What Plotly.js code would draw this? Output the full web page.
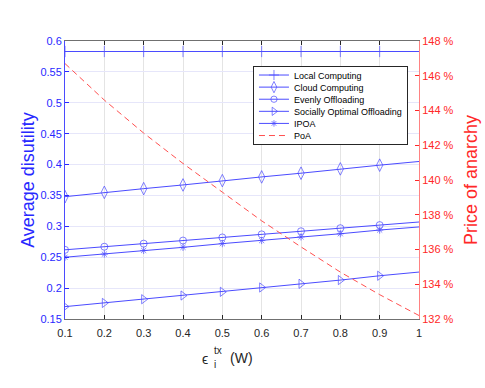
<!DOCTYPE html>
<html>
<head>
<meta charset="utf-8">
<script src="https://cdn.plot.ly/plotly-3.0.1.min.js"></script>
<style>
html, body {margin:0; padding:0; background:#fff;}
#graph {width:485px; height:388px;}
</style>
</head>
<body>
<div id="graph"></div>
<script>
/* Datos */

// eje x: potencia de transmision (W)
const potencia = [0.1, 0.2, 0.3, 0.4, 0.5, 0.6, 0.7, 0.8, 0.9, 1.0];

// eje izquierdo: disutilidad promedio
const localComputing = [0.583, 0.583, 0.583, 0.583, 0.583, 0.583, 0.583, 0.583, 0.583, 0.583];
const cloudComputing = [0.348, 0.355, 0.361, 0.367, 0.374, 0.380, 0.386, 0.393, 0.399, 0.405];
const evenlyOffloading = [0.262, 0.267, 0.272, 0.277, 0.282, 0.287, 0.292, 0.297, 0.302, 0.307];
const sociallyOptimal = [0.170, 0.176, 0.182, 0.188, 0.194, 0.201, 0.207, 0.213, 0.220, 0.226];
const ipoa = [0.250, 0.255, 0.261, 0.266, 0.272, 0.277, 0.283, 0.288, 0.294, 0.299];

// eje derecho: precio de la anarquia (%)
const poa = [146.7, 144.6, 142.7, 140.95, 139.3, 137.65, 136.15, 134.7, 133.4, 132.2];

// etiquetas de los ejes
const ticksX = ['0.1', '0.2', '0.3', '0.4', '0.5', '0.6', '0.7', '0.8', '0.9', '1'];
const valoresIzq = [0.15, 0.2, 0.25, 0.3, 0.35, 0.4, 0.45, 0.5, 0.55, 0.6];
const ticksIzq = ['0.15', '0.2', '0.25', '0.3', '0.35', '0.4', '0.45', '0.5', '0.55', '0.6'];
const valoresDer = [132, 134, 136, 138, 140, 142, 144, 146, 148];
const ticksDer = ['132 %', '134 %', '136 %', '138 %', '140 %', '142 %', '144 %', '146 %', '148 %'];

const AZUL = 'rgb(40,40,255)';
const AZUL_LINEA = 'rgb(75,75,255)';
const ROJO = 'rgb(255,40,40)';
const ROJO_LINEA = 'rgb(255,80,80)';
const GRIS = '#262626';
const FUENTE = '"Liberation Sans", Arial, sans-serif';

// marcadores en todos los puntos menos el ultimo (como en el original)
function serie(y, nombre, simbolo, tam){
    return {
        type: 'scatter',
        mode: 'lines+markers',
        x: potencia,
        y: y,
        name: nombre,
        line: {color: AZUL_LINEA, width: 1},
        marker: {
            symbol: simbolo,
            size: potencia.map((_, i) => i < potencia.length - 1 ? tam : 0),
            color: AZUL_LINEA,
            line: {color: AZUL_LINEA, width: 1}
        }
    };
}

const trazas = [
    serie(localComputing, 'Local Computing', 'cross-thin-open', 8),
    serie(cloudComputing, 'Cloud Computing', 'diamond-tall-open', 9),
    serie(evenlyOffloading, 'Evenly Offloading', 'circle-open', 7),
    serie(sociallyOptimal, 'Socially Optimal Offloading', 'triangle-right-open', 8),
    serie(ipoa, 'IPOA', 'asterisk-open', 6),
    {
        type: 'scatter',
        mode: 'lines',
        x: potencia,
        y: poa,
        yaxis: 'y2',
        name: 'PoA',
        line: {color: ROJO_LINEA, width: 1, dash: '6px,4px'}
    }
];

const layout = {
    width: 485,
    height: 388,
    margin: {l: 65, r: 66, t: 41, b: 69, pad: 0},
    paper_bgcolor: '#fff',
    plot_bgcolor: '#fff',
    font: {family: FUENTE, size: 11, color: GRIS},
    showlegend: true,
    legend: {
        x: 0.531, y: 0.91, xanchor: 'left', yanchor: 'top',
        bgcolor: '#fff', bordercolor: GRIS, borderwidth: 1,
        font: {family: FUENTE, size: 9, color: '#000'}
    },
    xaxis: {
        range: [0.1, 1],
        tickvals: potencia, ticktext: ticksX,
        ticks: 'inside', ticklen: 4, tickcolor: GRIS,
        ticklabelstandoff: 4,
        showline: true, linecolor: '#707070', linewidth: 1, mirror: 'ticks',
        showgrid: true, gridcolor: '#e4e4e4', zeroline: false,
        tickfont: {size: 11, color: GRIS}
    },
    yaxis: {
        range: [0.15, 0.6],
        tickvals: valoresIzq, ticktext: ticksIzq,
        ticks: 'inside', ticklen: 4, tickcolor: AZUL,
        showline: true, linecolor: AZUL_LINEA, linewidth: 1,
        showgrid: true, gridcolor: '#e6e6fa', zeroline: false,
        tickfont: {size: 11, color: AZUL},
        title: {text: 'Average disutility', font: {size: 18, color: AZUL}, standoff: 1}
    },
    yaxis2: {
        overlaying: 'y', side: 'right',
        range: [132, 148],
        tickvals: valoresDer, ticktext: ticksDer,
        ticks: 'inside', ticklen: 4, tickcolor: ROJO,
        showline: true, linecolor: 'rgb(255,130,130)', linewidth: 1,
        showgrid: false, zeroline: false,
        tickfont: {size: 11, color: ROJO},
        title: {text: 'Price of anarchy', font: {size: 18, color: ROJO}, standoff: 11}
    },
    // etiqueta del eje x con sub y superindice apilados
    annotations: [
        {text: 'ϵ', x: 0.3955, y: -0.144, font: {size: 14, color: GRIS}},
        {text: 'tx', x: 0.4308, y: -0.115, font: {size: 10, color: GRIS}},
        {text: 'i', x: 0.4237, y: -0.162, font: {size: 10, color: GRIS}},
        {text: '(W)', x: 0.4972, y: -0.1385, font: {size: 14, color: GRIS}}
    ].map(a => Object.assign({xref: 'paper', yref: 'paper', showarrow: false, xanchor: 'center', yanchor: 'middle'}, a))
};

const config = {displayModeBar: false, responsive: false};

const graph = document.getElementById('graph');

Plotly.newPlot(graph, trazas, layout, config).then(gd => {
    // compactar la leyenda: filas de ~12px como en el original
    const items = gd.querySelectorAll('.legend .traces');
    items.forEach((g, i) => {
        const m = /translate\(([^,\s]+)[,\s]+([^)]+)\)/.exec(g.getAttribute('transform') || '');
        const x0 = m ? m[1] : 1;
        g.setAttribute('transform', `translate(${x0},${9 + i * 12.1})`);
    });
    const bg = gd.querySelector('.legend .bg');
    if (bg) bg.setAttribute('height', 9 + (items.length - 1) * 12.1 + 8);
});
</script>
</body>
</html>
